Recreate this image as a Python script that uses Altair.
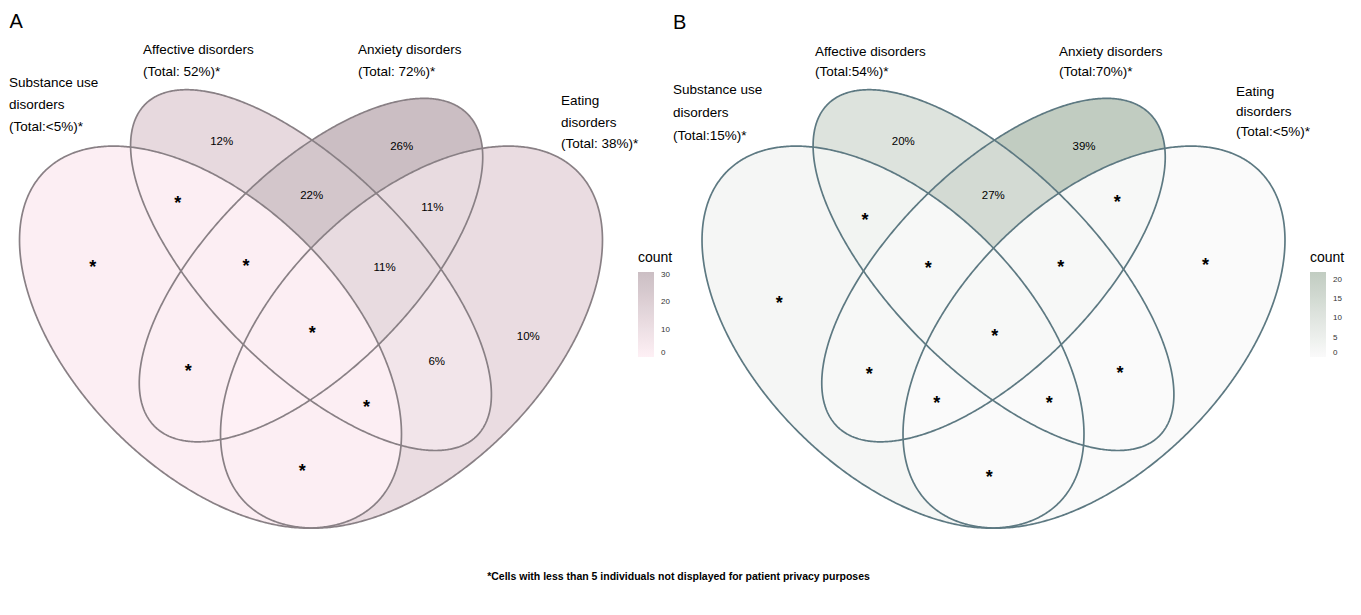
import math
import numpy as np
import pandas as pd
import altair as alt

# ---------------- data ----------------
REGIONS = ["1", "2", "3", "4", "12", "13", "14", "23", "24", "34",
           "123", "124", "134", "234", "1234"]

# panel A
COUNT_A = [1, 14, 31, 12, 1, 1, 1, 26, 7, 13, 1, 1, 0, 13, 1]
LABEL_A = ["*", "12%", "26%", "10%", "*", "*", "*", "22%", "6%", "11%",
           "*", "*", "", "11%", "*"]
SETLAB_A = [["Substance use", "disorders", "(Total:<5%)*"],
            ["Affective disorders", "(Total: 52%)*"],
            ["Anxiety disorders", "(Total: 72%)*"],
            ["Eating", "disorders", "(Total: 38%)*"]]

# panel B
COUNT_B = [2, 11, 22, 0, 3, 1, 0, 15, 0, 1, 1, 0, 0, 1, 1]
LABEL_B = ["*", "20%", "39%", "*", "*", "*", "*", "27%", "*", "*",
           "*", "*", "*", "*", "*"]
SETLAB_B = [["Substance use", "disorders", "(Total:15%)*"],
            ["Affective disorders", "(Total:54%)*"],
            ["Anxiety disorders", "(Total:70%)*"],
            ["Eating", "disorders", "(Total:<5%)*"]]

LEGEND_VALUES_A = [0, 10, 20, 30]
LEGEND_VALUES_B = [0, 5, 10, 15, 20]
FOOTNOTE = "*Cells with less than 5 individuals not displayed for patient privacy purposes"

# ---------------- geometry / layout ----------------
# 4-set ellipse layout (x0, y0, a, b, rotation deg) in unit coords
ELLIPSES = [(0.35, 0.47, 0.35, 0.20, 135),
            (0.50, 0.57, 0.35, 0.15, 135),
            (0.50, 0.57, 0.33, 0.15, 45),
            (0.65, 0.47, 0.35, 0.20, 45)]
UNIT = 670.0
ORIGIN = {"A": (-24.0, 652.0), "B": (658.5, 652.0)}

REGION_POS_A = [(92.7, 263.3), (221.7, 142.3), (401.7, 146.7), (528.3, 336.7),
                (177.8, 199.0), (188.3, 367.3), (302.3, 466.7), (311.7, 196.0),
                (436.7, 362.3), (432.3, 207.7), (246.0, 261.7), (366.4, 403.3),
                (253.0, 400.0), (384.6, 267.7), (312.3, 329.3)]
REGION_POS_B = [(779.3, 299.0), (903.3, 142.0), (1084.0, 146.7), (1205.5, 260.7),
                (865.0, 216.0), (869.3, 370.0), (989.3, 473.3), (993.3, 196.0),
                (1120.0, 369.3), (1117.3, 197.7), (928.3, 264.3), (1049.3, 399.3),
                (936.7, 399.3), (1060.7, 263.3), (994.7, 331.7)]
SETLAB_POS_A = [(9.0, [87, 109, 131]), (143.0, [54, 76]), (358.0, [54, 76]),
                (561.0, [105, 127, 148])]
SETLAB_POS_B = [(673.0, [94, 117, 140]), (815.0, [56, 76]), (1059.0, [56, 76]),
                (1236.0, [96, 116, 136])]

STROKE_A = "#898085"
STROKE_B = "#5d7982"
RANGE_A = ["#fef0f5", "#cbbec3"]
RANGE_B = ["#fafafa", "#c1ccc1"]
FONT = "Liberation Sans"


def y_interval(e, x):
    x0, y0, a, b, r = e
    r = math.radians(r)
    c, s = math.cos(r), math.sin(r)
    dx = x - x0
    A = s * s / (a * a) + c * c / (b * b)
    B = 2 * dx * c * s * (1 / (a * a) - 1 / (b * b))
    C = dx * dx * (c * c / (a * a) + s * s / (b * b)) - 1
    disc = B * B - 4 * A * C
    if disc < 0:
        return None
    sq = math.sqrt(disc)
    return (y0 + (-B - sq) / (2 * A), y0 + (-B + sq) / (2 * A))


def subset_interval(idxs, x):
    lo, hi = -1e9, 1e9
    for i in idxs:
        iv = y_interval(ELLIPSES[i], x)
        if iv is None:
            return None
        lo, hi = max(lo, iv[0]), min(hi, iv[1])
    if lo > hi:
        return None
    return lo, hi


def refine(idxs, a_, b_):
    # a_: empty side, b_: non-empty side
    for _ in range(40):
        m = (a_ + b_) / 2
        if subset_interval(idxs, m) is None:
            a_ = m
        else:
            b_ = m
    return b_


STEP = 0.8 / UNIT
XS = np.arange(-0.05, 1.05, STEP)


def region_points(idxs):
    vals = [subset_interval(idxs, x) for x in XS]
    nz = [i for i, v in enumerate(vals) if v is not None]
    i0, i1 = nz[0], nz[-1]
    pts = []
    xl = refine(idxs, XS[i0 - 1], XS[i0])
    pts.append((xl, subset_interval(idxs, xl)))
    for i in range(i0, i1 + 1):
        if vals[i] is not None:
            pts.append((XS[i], vals[i]))
    xr = refine(idxs, XS[i1 + 1], XS[i1])
    pts.append((xr, subset_interval(idxs, xr)))
    return pts


def fill_frames(panel, counts):
    ox, oy = ORIGIN[panel]
    levels = {1: [], 2: [], 3: [], 4: []}
    for key, cnt in zip(REGIONS, counts):
        idxs = [int(ch) - 1 for ch in key]
        for x, (lo, hi) in region_points(idxs):
            levels[len(key)].append({
                "region": panel + key, "count": cnt,
                "x": round(ox + UNIT * x, 2),
                "y": round(oy - UNIT * hi, 2),
                "y2": round(oy - UNIT * lo, 2)})
    return {k: pd.DataFrame(v) for k, v in levels.items()}


def outline_frame(panel):
    ox, oy = ORIGIN[panel]
    rows = []
    for k, (x0, y0, a, b, r) in enumerate(ELLIPSES):
        rr = math.radians(r)
        for j in range(0, 721):
            t = 2 * math.pi * j / 720
            x = x0 + a * math.cos(t) * math.cos(rr) - b * math.sin(t) * math.sin(rr)
            y = y0 + a * math.cos(t) * math.sin(rr) + b * math.sin(t) * math.cos(rr)
            rows.append({"e": panel + str(k), "t": j,
                         "x": round(ox + UNIT * x, 2), "y": round(oy - UNIT * y, 2)})
    return pd.DataFrame(rows)


XENC = alt.X("x:Q", scale=alt.Scale(domain=[8, 1353], nice=False, zero=False), axis=None)
YENC = alt.Y("y:Q", scale=alt.Scale(domain=[8, 600], nice=False, zero=False, reverse=True),
             axis=None, stack=None)


def color_enc(domain, rng, values, lx, ly):
    return alt.Color(
        "count:Q",
        scale=alt.Scale(domain=domain, range=rng, interpolate="lab", nice=False, zero=False),
        legend=alt.Legend(title="count", orient="none", legendX=lx, legendY=ly,
                          direction="vertical", gradientLength=85, gradientThickness=16,
                          gradientStrokeWidth=0, values=values, padding=0,
                          titleFont=FONT, titleFontSize=14, titleFontWeight="normal",
                          titleColor="#000000", titlePadding=7,
                          labelFont=FONT, labelFontSize=8, labelColor="#333333",
                          labelOffset=7))


def panel_fills(panel, counts, cenc):
    frames = fill_frames(panel, counts)
    layers = []
    for lvl in [1, 2, 3, 4]:
        layers.append(alt.Chart(frames[lvl]).mark_area(
            orient="vertical", interpolate="linear", strokeWidth=0, opacity=1).encode(
            x=XENC, y=YENC, y2="y2:Q", color=cenc, detail="region:N"))
    return alt.layer(*layers)


fillsA = panel_fills("A", COUNT_A, color_enc([0, 31], RANGE_A, LEGEND_VALUES_A, 630, 243))
fillsB = panel_fills("B", COUNT_B, color_enc([0, 22], RANGE_B, LEGEND_VALUES_B, 1302, 243))

outA = alt.Chart(outline_frame("A")).mark_line(color=STROKE_A, strokeWidth=1.7).encode(
    x=XENC, y=YENC, detail="e:N", order="t:Q")
outB = alt.Chart(outline_frame("B")).mark_line(color=STROKE_B, strokeWidth=1.7).encode(
    x=XENC, y=YENC, detail="e:N", order="t:Q")

# region labels
reg_rows, star_rows = [], []
for labels, pos in [(LABEL_A, REGION_POS_A), (LABEL_B, REGION_POS_B)]:
    for lab, (x, y) in zip(labels, pos):
        if lab == "*":
            star_rows.append({"x": x, "y": y, "text": lab})
        elif lab:
            reg_rows.append({"x": x, "y": y, "text": lab})

pct_text = alt.Chart(pd.DataFrame(reg_rows)).mark_text(
    align="center", baseline="middle", font=FONT, fontSize=11.5, color="#000000").encode(
    x=XENC, y=YENC, text="text:N")
star_text = alt.Chart(pd.DataFrame(star_rows)).mark_text(
    align="center", baseline="middle", font=FONT, fontSize=18, fontWeight="bold",
    dy=5, color="#000000").encode(
    x=XENC, y=YENC, text="text:N")

set_rows = []
for labs, poss in [(SETLAB_A, SETLAB_POS_A), (SETLAB_B, SETLAB_POS_B)]:
    for lines, (x, ys) in zip(labs, poss):
        for ln, y in zip(lines, ys):
            set_rows.append({"x": x, "y": y, "text": ln})
set_text = alt.Chart(pd.DataFrame(set_rows)).mark_text(
    align="left", baseline="alphabetic", font=FONT, fontSize=13.5, color="#000000").encode(
    x=XENC, y=YENC, text="text:N")

panel_titles = alt.Chart(pd.DataFrame([{"x": 9.5, "y": 28, "text": "A"},
                                       {"x": 673, "y": 29, "text": "B"}])).mark_text(
    align="left", baseline="alphabetic", font=FONT, fontSize=20, color="#000000").encode(
    x=XENC, y=YENC, text="text:N")

foot = alt.Chart(pd.DataFrame([{"x": 678.5, "y": 577, "text": FOOTNOTE}])).mark_text(
    align="center", baseline="middle", font=FONT, fontSize=10.5, fontWeight="bold",
    color="#000000").encode(x=XENC, y=YENC, text="text:N")

chart = alt.layer(fillsA, fillsB, outA, outB, pct_text, star_text, set_text,
                  panel_titles, foot).resolve_scale(color="independent").properties(
    width=1345, height=592, padding=0, background="white",
    autosize=alt.AutoSizeParams(type="none")).configure_view(stroke=None, strokeWidth=0)

chart.save("out.html", embed_options={"renderer": "svg", "actions": False})
